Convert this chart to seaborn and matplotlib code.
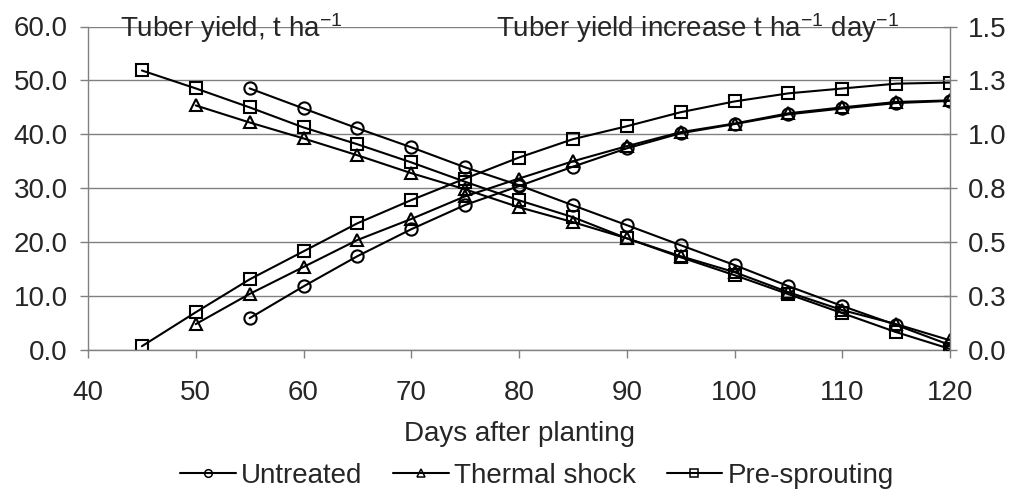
import pandas as pd
import seaborn as sns
import matplotlib.pyplot as plt
from matplotlib.lines import Line2D

# days after planting for each treatment
days_untreated = [55, 60, 65, 70, 75, 80, 85, 90, 95, 100, 105, 110, 115, 120]
days_thermal = [50, 55, 60, 65, 70, 75, 80, 85, 90, 95, 100, 105, 110, 115, 120]
days_presprout = [45, 50, 55, 60, 65, 70, 75, 80, 85, 90, 95, 100, 105, 110, 115, 120]

# tuber yield, t/ha (left axis)
yield_untreated = [5.9, 11.8, 17.4, 22.4, 26.9, 30.4, 34.0, 37.4, 40.2, 41.9, 43.7, 44.8, 45.8, 46.2]
yield_thermal = [4.8, 10.4, 15.4, 20.4, 24.3, 28.5, 31.8, 35.0, 37.8, 40.4, 42.0, 43.9, 45.0, 46.0, 46.3]
yield_presprout = [0.7, 7.0, 13.1, 18.3, 23.5, 27.8, 31.8, 35.7, 39.1, 41.5, 44.1, 46.1, 47.6, 48.5, 49.4, 49.6]

# tuber yield increase, t/ha/day (right axis)
rate_untreated = [1.213, 1.12, 1.028, 0.94, 0.847, 0.764, 0.671, 0.579, 0.486, 0.394, 0.296, 0.204, 0.116, 0.023]
rate_thermal = [1.134, 1.055, 0.981, 0.903, 0.82, 0.745, 0.662, 0.593, 0.518, 0.435, 0.361, 0.268, 0.185, 0.12, 0.045]
rate_presprout = [1.296, 1.213, 1.125, 1.032, 0.954, 0.87, 0.78, 0.694, 0.616, 0.518, 0.43, 0.347, 0.259, 0.171, 0.083, 0.005]

treatments = ["Untreated", "Thermal shock", "Pre-sprouting"]
markers = ["o", "^", "s"]

left_ticks = [0, 10, 20, 30, 40, 50, 60]
left_labels = ["0.0", "10.0", "20.0", "30.0", "40.0", "50.0", "60.0"]
right_ticks = [0, 0.25, 0.5, 0.75, 1.0, 1.25, 1.5]
right_labels = ["0.0", "0.3", "0.5", "0.8", "1.0", "1.3", "1.5"]
x_ticks = [40, 50, 60, 70, 80, 90, 100, 110, 120]

sns.set_style("white")
plt.rcParams['font.family'] = ['Liberation Sans', 'DejaVu Sans']
plt.rcParams['mathtext.default'] = 'regular'
FS = 20
GRAY = '#808080'

fig = plt.figure(figsize=(10.13, 4.91), dpi=100)
ax = fig.add_axes([88/1013, 1-350/491, (950-88)/1013, (350-26.5)/491])
ax2 = ax.twinx()

days_all = [days_untreated, days_thermal, days_presprout]
yields = [yield_untreated, yield_thermal, yield_presprout]
rates = [rate_untreated, rate_thermal, rate_presprout]

style = dict(color='black', lw=1.5, markersize=8.8, mfc='none', mec='black', mew=1.5)
for d, yv, rv, m in zip(days_all, yields, rates, markers):
    df = pd.DataFrame({"day": d, "yield": yv, "rate": rv})
    sns.lineplot(data=df, x="day", y="yield", ax=ax, marker=m, **style)
    sns.lineplot(data=df, x="day", y="rate", ax=ax2, marker=m, **style)

ax.set_xlim(40, 120)
ax.set_ylim(0, 60)
ax2.set_ylim(0, 1.5)
ax.set_xticks(x_ticks)
ax.set_xticklabels([str(t) for t in x_ticks], fontsize=FS)
ax.set_yticks(left_ticks)
ax.set_yticklabels(left_labels, fontsize=FS)
ax2.set_yticks(right_ticks)
ax2.set_yticklabels(right_labels, fontsize=FS)
ax.set_ylabel("")
ax2.set_ylabel("")
ax.set_xlabel("Days after planting", fontsize=FS, labelpad=11)

ax.yaxis.grid(True, color=GRAY, lw=1)
ax.xaxis.grid(False)

for a in (ax, ax2):
    for s in a.spines.values():
        s.set_color(GRAY)
        s.set_linewidth(1)
    a.spines['top'].set_visible(False)
ax2.spines['left'].set_visible(False)
ax2.spines['bottom'].set_visible(False)
ax.spines['right'].set_visible(False)

ax.tick_params(axis='y', direction='out', length=5.5, width=1, color=GRAY, pad=9, left=True)
ax.tick_params(axis='x', direction='out', length=5.5, width=1, color=GRAY, pad=16, bottom=True)
ax2.tick_params(axis='y', direction='inout', length=10, width=1, color=GRAY, pad=8, right=True)

fig.text(120/1013, 1-37/491, "Tuber yield, t ha$^{-1}$", fontsize=FS, ha='left', va='baseline')
fig.text(899/1013, 1-37/491, "Tuber yield increase t ha$^{-1}$ day$^{-1}$", fontsize=FS,
         ha='right', va='baseline')

handles = [Line2D([], [], color='black', lw=1.5, marker=m, markersize=5.5, mfc='none',
                  mec='black', mew=1.1) for m in markers]
fig.legend(handles, treatments, loc='center', bbox_to_anchor=(537/1013, 1-476/491), ncol=3,
           frameon=False, fontsize=FS, handlelength=2.0, handletextpad=0.2, columnspacing=1.1)

fig.savefig("out.png", dpi=100)
